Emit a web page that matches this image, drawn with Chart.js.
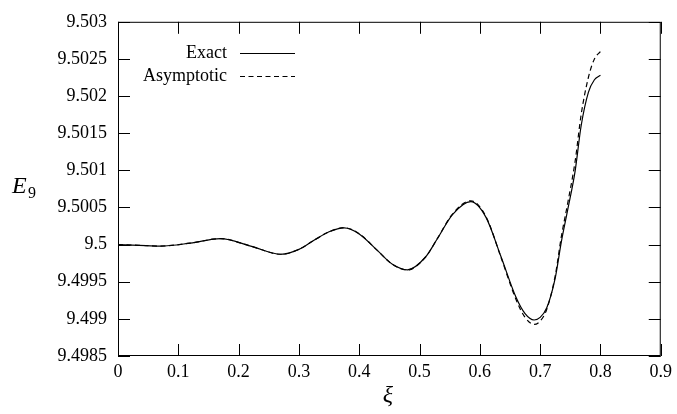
<!DOCTYPE html>
<html>
<head>
<meta charset="utf-8">
<script src="https://cdn.jsdelivr.net/npm/chart.js@4.4.0/dist/chart.umd.min.js"></script>
<style>
  html, body { margin: 0; padding: 0; background: #fff; }
  #wrap { width: 677px; height: 414px; }
</style>
</head>
<body>
<div id="wrap"><canvas id="energy" width="677" height="414"></canvas></div>
<script>
// xi sample positions and E_9 for the exact and asymptotic curves
const xi = [0, 0.035, 0.07, 0.12, 0.17, 0.22, 0.27, 0.30, 0.325, 0.35, 0.375, 0.40, 0.43, 0.455, 0.48,
  0.51, 0.53, 0.555, 0.585, 0.61, 0.635, 0.66, 0.675, 0.69, 0.70, 0.711, 0.725, 0.735, 0.746,
  0.758, 0.768, 0.78, 0.79, 0.80]
const exact = [9.5, 9.49999, 9.49998, 9.50002, 9.50008, 9.49998, 9.49987, 9.499936, 9.500058, 9.500173,
  9.500225, 9.500144, 9.499922, 9.499736, 9.499661, 9.499833, 9.500085, 9.500407, 9.500578, 9.50037,
  9.49984, 9.49929, 9.49907, 9.498985, 9.49902, 9.49915, 9.49955, 9.50003, 9.50048, 9.50099,
  9.5016, 9.50205, 9.50222, 9.50228]
const asymptotic = [9.5, 9.49999, 9.49998, 9.50002, 9.50008, 9.49998, 9.49987, 9.499936, 9.500058, 9.500173,
  9.500228, 9.500146, 9.499922, 9.499734, 9.499658, 9.499833, 9.500088, 9.500415, 9.50059, 9.50038,
  9.49983, 9.49926, 9.49902, 9.498925, 9.49897, 9.49913, 9.49958, 9.5001, 9.50057, 9.50112,
  9.50175, 9.50225, 9.5025, 9.5026]
const seriesNames = ["Exact", "Asymptotic"]
const xTicks = [0, 0.1, 0.2, 0.3, 0.4, 0.5, 0.6, 0.7, 0.8, 0.9]
const yTicks = [9.4985, 9.499, 9.4995, 9.5, 9.5005, 9.501, 9.5015, 9.502, 9.5025, 9.503]

const serif = "'Liberation Serif', serif"
const fmt = (v) => String(parseFloat(v.toFixed(4)))

const toPoints = (ys) => xi.map((x, i) => ({ x: x, y: ys[i] }))

// frame, inward ticks on all four sides, legend and axis titles
const framePlugin = {
  id: "frame",
  afterDraw(chart) {
    const { ctx, chartArea: a, scales } = chart
    const tl = 12
    ctx.save()
    ctx.strokeStyle = "#000"
    ctx.lineWidth = 1
    ctx.strokeRect(a.left + 0.5, a.top + 0.5, a.right - a.left - 1, a.bottom - a.top - 1)
    ctx.beginPath()
    xTicks.forEach((v) => {
      const px = Math.round(scales.x.getPixelForValue(v)) + 0.5
      ctx.moveTo(px, a.bottom); ctx.lineTo(px, a.bottom - tl)
      ctx.moveTo(px, a.top); ctx.lineTo(px, a.top + tl)
    })
    yTicks.forEach((v) => {
      const py = Math.round(scales.y.getPixelForValue(v)) + 0.5
      ctx.moveTo(a.left, py); ctx.lineTo(a.left + tl, py)
      ctx.moveTo(a.right, py); ctx.lineTo(a.right - tl, py)
    })
    ctx.stroke()

    // legend
    ctx.font = "18px " + serif
    ctx.fillStyle = "#000"
    ctx.textAlign = "right"
    ctx.textBaseline = "middle"
    const lx = 227, ly = [53, 76]
    chart.data.datasets.forEach((ds, i) => {
      ctx.fillText(seriesNames[i], lx, ly[i])
      ctx.beginPath()
      ctx.setLineDash(ds.borderDash || [])
      ctx.lineWidth = 1.2
      ctx.moveTo(lx + 13, ly[i] + 0.5)
      ctx.lineTo(lx + 68, ly[i] + 0.5)
      ctx.stroke()
    })
    ctx.setLineDash([])

    // axis titles
    ctx.textAlign = "center"
    ctx.textBaseline = "alphabetic"
    ctx.font = "italic 24px " + serif
    ctx.fillText("ξ", 388, 402)
    ctx.textAlign = "left"
    ctx.fillText("E", 12, 193)
    ctx.font = "16px " + serif
    ctx.fillText("9", 28, 198)
    ctx.restore()
  },
}

new Chart(document.getElementById("energy"), {
  type: "line",
  data: {
    datasets: [
      {
        label: seriesNames[0],
        data: toPoints(exact),
        borderColor: "#000",
        borderWidth: 1.2,
        pointRadius: 0,
        cubicInterpolationMode: "monotone",
      },
      {
        label: seriesNames[1],
        data: toPoints(asymptotic),
        borderColor: "#000",
        borderWidth: 1.2,
        borderDash: [5, 3.5],
        pointRadius: 0,
        cubicInterpolationMode: "monotone",
      },
    ],
  },
  options: {
    responsive: false,
    animation: false,
    layout: { padding: { left: 0, top: 16, right: 10, bottom: 0 } },
    plugins: { legend: { display: false }, tooltip: { enabled: false } },
    scales: {
      x: {
        type: "linear",
        min: 0,
        max: 0.9,
        afterFit: (s) => { s.height = 58 },
        afterBuildTicks: (s) => { s.ticks = xTicks.map((v) => ({ value: v })) },
        grid: { display: false, drawTicks: false },
        border: { display: false },
        ticks: { color: "#000", padding: 5, font: { family: serif, size: 18 }, callback: fmt },
      },
      y: {
        type: "linear",
        min: 9.4985,
        max: 9.503,
        afterFit: (s) => { s.width = 118 },
        afterBuildTicks: (s) => { s.ticks = yTicks.map((v) => ({ value: v })) },
        grid: { display: false, drawTicks: false },
        border: { display: false },
        ticks: { color: "#000", padding: 11, font: { family: serif, size: 18 }, callback: fmt },
      },
    },
  },
  plugins: [framePlugin],
})
</script>
</body>
</html>
